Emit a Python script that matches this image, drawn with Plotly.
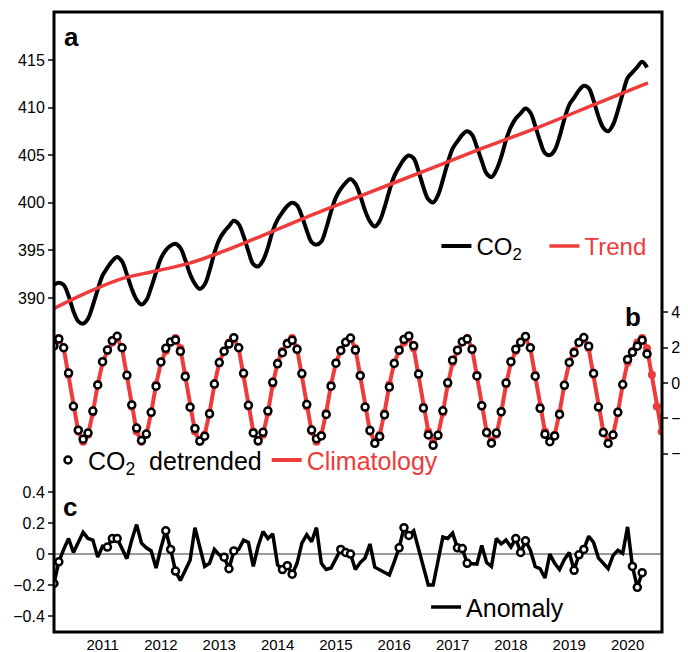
import plotly.graph_objects as go

# ---------------- data ----------------
START_YEAR, START_MONTH = 2010, 3          # first monthly value: March 2010

# panel a: monthly CO2 (ppm), Mar 2010 .. May 2020
co2 = [
    391.4, 391.60, 391.37, 390.22, 388.61, 387.54, 387.30, 387.82, 389.23, 390.88,
    392.36, 393.18, 393.88, 394.30, 393.83, 392.45, 390.95, 389.82, 389.30, 389.76,
    391.10, 392.68, 394.15, 395.02, 395.49, 395.70, 395.25, 394.01, 392.48, 391.47,
    390.95, 391.41, 392.86, 394.73, 396.13, 396.95, 397.55, 398.10, 397.74, 396.50,
    394.90, 393.54, 393.30, 393.93, 395.28, 397.05, 398.23, 399.01, 399.66, 400.00,
    399.72, 398.58, 397.08, 395.86, 395.60, 395.93, 397.32, 399.09, 400.56, 401.45,
    402.09, 402.50, 402.01, 400.75, 399.17, 398.04, 397.50, 398.08, 399.51, 401.28,
    402.80, 403.75, 404.56, 404.96, 404.66, 403.30, 401.63, 400.36, 400.03, 400.80,
    402.40, 404.19, 405.68, 406.45, 407.14, 407.50, 407.14, 405.85, 404.39, 403.08,
    402.70, 403.44, 404.81, 406.60, 407.97, 408.85, 409.40, 409.90, 409.47, 408.07,
    406.47, 405.21, 405.00, 405.53, 406.94, 408.79, 410.29, 411.04, 411.82, 412.30,
    412.05, 410.75, 409.08, 407.88, 407.50, 408.19, 409.69, 411.47, 413.10, 413.70,
    414.26, 414.80, 414.20,
]

# panel a: trend curve (decimal year, ppm)
trend_t = [2010.17, 2010.75, 2011.32, 2011.89, 2012.46, 2013.03, 2013.60,
           2014.50, 2015.50, 2016.50, 2017.50, 2018.50, 2019.50, 2020.35]
trend_v = [388.9, 390.6, 392.0, 392.8, 393.6, 394.8, 396.2,
           398.5, 400.9, 403.3, 405.7, 408.0, 410.5, 412.6]

# panel b: detrended CO2 (ppm), Mar 2010 .. May 2020
detrended = [
    2.10, 2.49, 1.99, 0.56, -1.32, -2.67, -3.18, -2.83, -1.59, -0.11,
    1.20, 1.86, 2.39, 2.64, 1.99, 0.43, -1.24, -2.55, -3.25, -2.89,
    -1.66, -0.18, 1.19, 1.96, 2.32, 2.43, 1.79, 0.36, -1.37, -2.57,
    -3.28, -3.01, -1.74, -0.06, 1.15, 1.79, 2.20, 2.56, 1.99, 0.55,
    -1.26, -2.82, -3.27, -2.79, -1.58, 0.04, 1.08, 1.71, 2.22, 2.41,
    1.90, 0.53, -1.21, -2.66, -3.15, -2.99, -1.78, -0.18, 1.12, 1.84,
    2.30, 2.54, 1.86, 0.41, -1.36, -2.68, -3.41, -3.03, -1.80, -0.23,
    1.10, 1.85, 2.46, 2.66, 2.11, 0.50, -1.42, -2.94, -3.52, -2.96,
    -1.57, 0.01, 1.29, 1.85, 2.33, 2.48, 1.90, 0.40, -1.28, -2.80,
    -3.40, -2.83, -1.62, 0.00, 1.20, 1.91, 2.30, 2.63, 1.99, 0.38,
    -1.43, -2.90, -3.32, -2.99, -1.78, -0.13, 1.16, 1.71, 2.29, 2.57,
    2.08, 0.54, -1.36, -2.80, -3.42, -2.94, -1.66, -0.09, 1.33, 1.73,
    2.08, 2.42, 1.64,
]

# panel b: monthly climatology, Jan .. Dec (ppm); shown Mar 2010 .. Aug 2020
climatology_by_month = [1.15, 1.81, 2.29, 2.54, 1.96, 0.46,
                        -1.33, -2.74, -3.32, -2.93, -1.68, -0.09]
climatology_months = 126

# panel c: anomaly (ppm), Mar 2010 .. Apr 2020
anomaly = [
    -0.19, -0.05, 0.03, 0.10, 0.01, 0.07, 0.14, 0.10, 0.09, -0.02,
    0.05, 0.045, 0.10, 0.10, 0.03, -0.03, 0.09, 0.19, 0.07, 0.04,
    0.02, -0.09, 0.04, 0.15, 0.03, -0.11, -0.17, -0.10, -0.04, 0.17,
    0.04, -0.08, -0.06, 0.03, -0.005, -0.02, -0.095, 0.02, 0.03, 0.09,
    0.075, -0.08, 0.05, 0.145, 0.10, 0.13, -0.07, -0.10, -0.075, -0.13,
    -0.06, 0.07, 0.125, 0.08, 0.17, -0.06, -0.10, -0.09, -0.03, 0.03,
    0.01, 0.0, -0.10, -0.055, -0.025, 0.065, -0.085, -0.10, -0.115, -0.135,
    -0.05, 0.04, 0.17, 0.12, 0.15, 0.04, -0.085, -0.20, -0.20, -0.03,
    0.11, 0.10, 0.135, 0.04, 0.035, -0.06, -0.065, -0.065, 0.055, -0.055,
    -0.08, 0.10, 0.065, 0.09, 0.045, 0.10, 0.01, 0.085, 0.025, -0.08,
    -0.095, -0.155, 0.0, -0.06, -0.10, -0.035, 0.01, -0.105, -0.005, 0.03,
    0.115, 0.075, -0.025, -0.06, -0.095, -0.01, 0.025, 0.005, 0.175, -0.08,
    -0.215, -0.12,
]
highlight_months = [2, 3, 4]   # Feb, Mar, Apr marked with circles in panel c

year_ticks = list(range(2011, 2021))
ticks_a = [390, 395, 400, 405, 410, 415]
ticks_b = [-4, -2, 0, 2, 4]
ticks_c = [-0.4, -0.2, 0, 0.2, 0.4]

# ---------------- helpers ----------------
def month_pos(n):
    return [START_YEAR + (START_MONTH - 1 + k) / 12 for k in range(n)]

def cal_month(k):
    return (START_MONTH - 1 + k) % 12

t_co2 = month_pos(len(co2))
t_det = month_pos(len(detrended))
t_anom = month_pos(len(anomaly))
t_clim = month_pos(climatology_months)
clim = [climatology_by_month[cal_month(k)] for k in range(climatology_months)]
hl = [k for k in range(len(anomaly)) if cal_month(k) + 1 in highlight_months]

RED = "#EE3B3B"
FONT = "Liberation Sans"
SP = "\u00a0"

fig = go.Figure()

# panel b
fig.add_trace(go.Scatter(x=t_clim, y=clim, yaxis="y2", mode="lines",
                         line=dict(color=RED, width=4),
                         name=f'<span style="color:{RED}">Climatology</span>',
                         legend="legend2", legendrank=2, hoverinfo="skip"))
fig.add_trace(go.Scatter(x=t_clim, y=clim, yaxis="y2", mode="markers",
                         marker=dict(color=RED, size=8), showlegend=False,
                         hoverinfo="skip"))
fig.add_trace(go.Scatter(x=t_det, y=detrended, yaxis="y2", mode="markers",
                         marker=dict(symbol="circle", size=7, color="white",
                                     line=dict(color="black", width=2.5)),
                         name=f"CO<sub>2</sub>{SP}{SP}detrended", legend="legend2",
                         legendrank=1))

# panel c
fig.add_trace(go.Scatter(x=t_anom, y=anomaly, yaxis="y3", mode="lines",
                         line=dict(color="black", width=3.5),
                         name="Anomaly", legend="legend3"))
fig.add_trace(go.Scatter(x=[t_anom[k] for k in hl], y=[anomaly[k] for k in hl],
                         yaxis="y3", mode="markers", showlegend=False,
                         marker=dict(symbol="circle", size=7, color="white",
                                     line=dict(color="black", width=2.5))))

# panel a
fig.add_trace(go.Scatter(x=t_co2, y=co2, yaxis="y", mode="lines",
                         line=dict(color="black", width=4, shape="spline",
                                   smoothing=1.0),
                         name="CO<sub>2</sub>", legend="legend", legendrank=1))
fig.add_trace(go.Scatter(x=trend_t, y=trend_v, yaxis="y", mode="lines",
                         line=dict(color=RED, width=3.5, shape="spline"),
                         name=f'<span style="color:{RED}">Trend</span>',
                         legend="legend", legendrank=2))

axis_common = dict(showgrid=False, zeroline=False, showline=False,
                   automargin=False)
yfont = dict(family=FONT, size=16, color="black")
xfont = dict(family=FONT, size=15, color="black")

def legend_style(size):
    return dict(orientation="h", bgcolor="rgba(0,0,0,0)", borderwidth=0,
                font=dict(family=FONT, size=size, color="black"),
                xanchor="left", yanchor="middle", itemclick=False,
                itemdoubleclick=False, tracegroupgap=0)

# the page body adds an 8 px offset; margins compensate so the frame sits at
# 54..662 x 12..632 in the browser window
fig.update_layout(
    width=688, height=652, autosize=False,
    margin=dict(l=46, r=34, t=4, b=28, autoexpand=False),
    paper_bgcolor="white", plot_bgcolor="white",
    xaxis=dict(range=[2010.167, 2020.59], tickvals=year_ticks,
               ticktext=[str(y) for y in year_ticks], ticks="",
               ticklabelstandoff=2, tickfont=xfont, **axis_common),
    yaxis=dict(range=[354.9, 420.04], tickvals=ticks_a, ticks="outside",
               ticklen=5, tickwidth=2, side="left", tickfont=yfont,
               **axis_common),
    yaxis2=dict(range=[-14.07, 20.96], tickvals=ticks_b, ticks="outside",
                ticklen=5, tickwidth=2, side="right", overlaying="y",
                anchor="x", tickfont=yfont, **axis_common),
    yaxis3=dict(range=[-0.503, 3.497], tickvals=ticks_c, ticks="outside",
                ticklen=5, tickwidth=2, side="left", overlaying="y",
                anchor="x", tickfont=yfont, **axis_common),
    legend=dict(x=0.629, y=0.622, entrywidth=63, entrywidthmode="pixels",
                **legend_style(24)),
    legend2=dict(x=0.0581, xref="container", y=0.277, **legend_style(25)),
    legend3=dict(x=0.612, y=0.040, **legend_style(25)),
    showlegend=True,
    shapes=[
        dict(type="line", xref="paper", x0=0, x1=1, yref="y3", y0=0, y1=0,
             line=dict(color="#9a9a9a", width=2), layer="below"),
        dict(type="rect", xref="paper", yref="paper", x0=0, x1=1, y0=0, y1=1,
             line=dict(color="black", width=3), layer="above"),
    ],
    annotations=[
        dict(text="<b>a</b>", x=0.0296, y=0.9597, xref="paper", yref="paper",
             xanchor="center", yanchor="middle", showarrow=False,
             font=dict(family=FONT, size=26, color="black")),
        dict(text="<b>b</b>", x=0.952, y=0.508, xref="paper", yref="paper",
             xanchor="center", yanchor="middle", showarrow=False,
             font=dict(family=FONT, size=26, color="black")),
        dict(text="<b>c</b>", x=0.026, y=0.2016, xref="paper", yref="paper",
             xanchor="center", yanchor="middle", showarrow=False,
             font=dict(family=FONT, size=26, color="black")),
    ],
)

fig.write_html("out.html")
